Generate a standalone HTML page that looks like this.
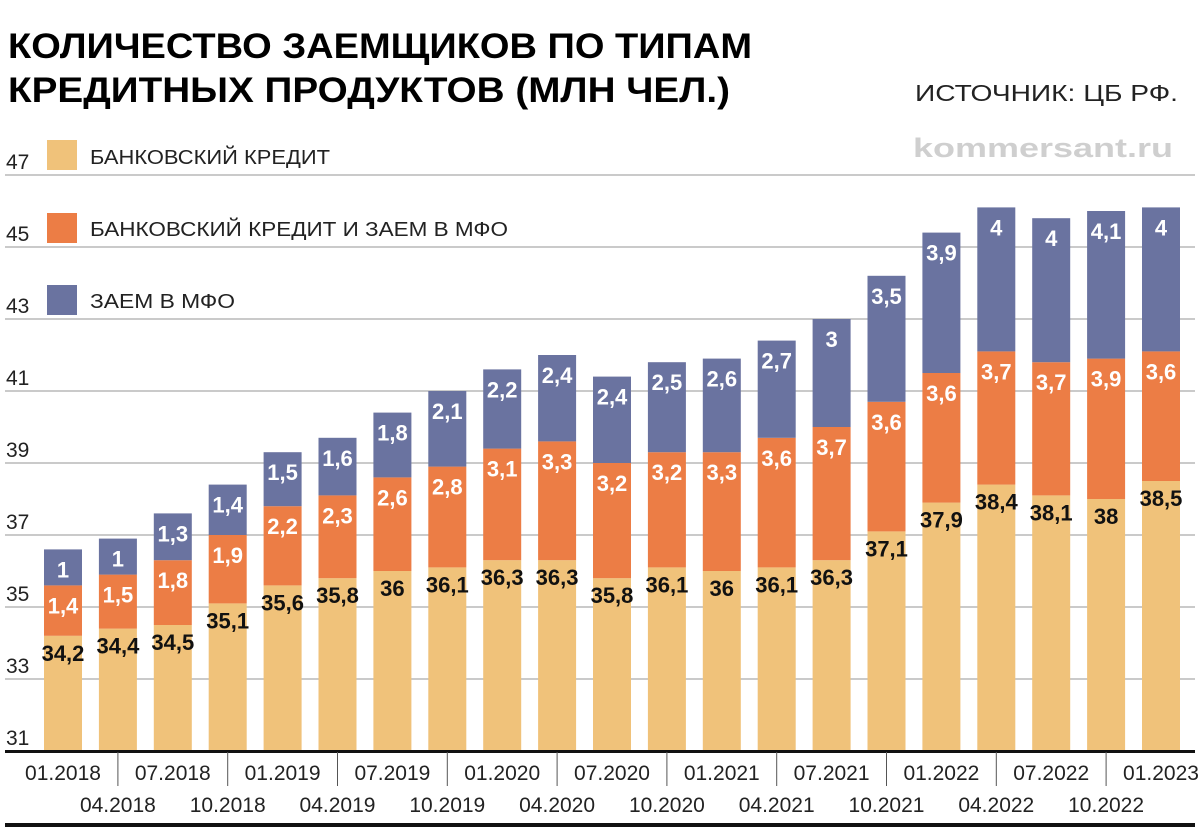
<!DOCTYPE html>
<html><head><meta charset="utf-8"><style>
html,body{margin:0;padding:0;background:#fff;}
svg{display:block;font-family:"Liberation Sans",sans-serif;}
.val{font-family:"Liberation Sans Narrow","Liberation Sans",sans-serif;font-weight:bold;font-size:22px;}
</style></head><body>
<svg id="chart" width="1200" height="840" viewBox="0 0 1200 840">
<text x="8" y="58" font-size="35" font-weight="bold" textLength="744" lengthAdjust="spacingAndGlyphs">КОЛИЧЕСТВО ЗАЕМЩИКОВ ПО ТИПАМ</text>
<text x="8" y="102" font-size="35" font-weight="bold" textLength="722" lengthAdjust="spacingAndGlyphs">КРЕДИТНЫХ ПРОДУКТОВ (МЛН ЧЕЛ.)</text>
<text x="915" y="101" font-size="23" fill="#222" textLength="263" lengthAdjust="spacingAndGlyphs">ИСТОЧНИК: ЦБ РФ.</text>
<text x="913" y="157" font-size="27" font-weight="bold" fill="#cfcfcf" textLength="260" lengthAdjust="spacingAndGlyphs">kommersant.ru</text>
<g id="grid"></g>
<g id="legend">
<rect x="47" y="140" width="30" height="30" fill="#f0c27a"/>
<text x="90" y="164" font-size="20" fill="#222" textLength="240" lengthAdjust="spacingAndGlyphs">БАНКОВСКИЙ КРЕДИТ</text>
<rect x="47" y="213" width="30" height="30" fill="#ec7d45"/>
<text x="90" y="236" font-size="20" fill="#222" textLength="418" lengthAdjust="spacingAndGlyphs">БАНКОВСКИЙ КРЕДИТ И ЗАЕМ В МФО</text>
<rect x="47" y="285" width="30" height="30" fill="#6a73a0"/>
<text x="90" y="308" font-size="20" fill="#222" textLength="145" lengthAdjust="spacingAndGlyphs">ЗАЕМ В МФО</text>
</g>
<g id="bars"></g>
<g id="xaxis"></g>
<rect x="5" y="823" width="1190" height="4" fill="#111"/>
</svg>
<script>
const categories=["01.2018","04.2018","07.2018","10.2018","01.2019","04.2019","07.2019","10.2019","01.2020","04.2020","07.2020","10.2020","01.2021","04.2021","07.2021","10.2021","01.2022","04.2022","07.2022","10.2022","01.2023"];
const bankCredit=[34.2,34.4,34.5,35.1,35.6,35.8,36,36.1,36.3,36.3,35.8,36.1,36,36.1,36.3,37.1,37.9,38.4,38.1,38,38.5];
const bankAndMfo=[1.4,1.5,1.8,1.9,2.2,2.3,2.6,2.8,3.1,3.3,3.2,3.2,3.3,3.6,3.7,3.6,3.6,3.7,3.7,3.9,3.6];
const mfoLoan=[1,1,1.3,1.4,1.5,1.6,1.8,2.1,2.2,2.4,2.4,2.5,2.6,2.7,3,3.5,3.9,4,4,4.1,4];
const yTicks=[31,33,35,37,39,41,43,45,47];

const NS="http://www.w3.org/2000/svg";
const Y0=31, BASE=751, PXU=36;
function y(v){return BASE-(v-Y0)*PXU;}
function xc(i){return 63+i*54.9;}
const BW=38;
function mk(tag,attrs,parent){const e=document.createElementNS(NS,tag);for(const k in attrs)e.setAttribute(k,attrs[k]);parent.appendChild(e);return e;}
function fmt(v){return String(v).replace('.',',');}

const grid=document.getElementById('grid');
yTicks.forEach(t=>{
  if(t>Y0){const l=mk('line',{x1:5,x2:1195,y1:y(t),y2:y(t),stroke:'#aaa','stroke-width':1.2},grid);
  
  }
  const tx=mk('text',{x:6,y:y(t)-6,'font-size':21,fill:'#222'},grid);
  tx.textContent=t;
  
  
});

const bars=document.getElementById('bars');
categories.forEach((c,i)=>{
  const x=xc(i)-BW/2;
  const b=bankCredit[i], o=bankAndMfo[i], m=mfoLoan[i];
  const r1=mk('rect',{x:x,y:y(b),width:BW,height:BASE-y(b),fill:'#f0c27a'},bars);
  
  
  const r2=mk('rect',{x:x,y:y(b+o),width:BW,height:y(b)-y(b+o),fill:'#ec7d45'},bars);
  
  
  const r3=mk('rect',{x:x,y:y(b+o+m),width:BW,height:y(b+o)-y(b+o+m),fill:'#6a73a0'},bars);
  
  
  const t1=mk('text',{x:xc(i),y:y(b)+25,'text-anchor':'middle',class:'val',fill:'#111'},bars);
  t1.textContent=fmt(b);
  
  
  const t2=mk('text',{x:xc(i),y:y(b+o)+28,'text-anchor':'middle',class:'val',fill:'#fff'},bars);
  t2.textContent=fmt(o);
  
  
  const t3=mk('text',{x:xc(i),y:y(b+o+m)+28,'text-anchor':'middle',class:'val',fill:'#fff'},bars);
  t3.textContent=fmt(m);
  
  
});

const xa=document.getElementById('xaxis');
const bl=mk('rect',{x:5,y:750,width:1190,height:3,fill:'#111'},xa);


categories.forEach((c,i)=>{
  const top=i%2===0;
  if(!top){const tk=mk('line',{x1:xc(i),x2:xc(i),y1:752,y2:786,stroke:'#555','stroke-width':1},xa);
  
  }
  const t=mk('text',{x:xc(i),y:top?780:812,'text-anchor':'middle','font-size':21,fill:'#222','font-family':'"Liberation Sans Narrow","Liberation Sans",sans-serif'},xa);
  t.textContent=c;
  
  
});
</script>
</body></html>
